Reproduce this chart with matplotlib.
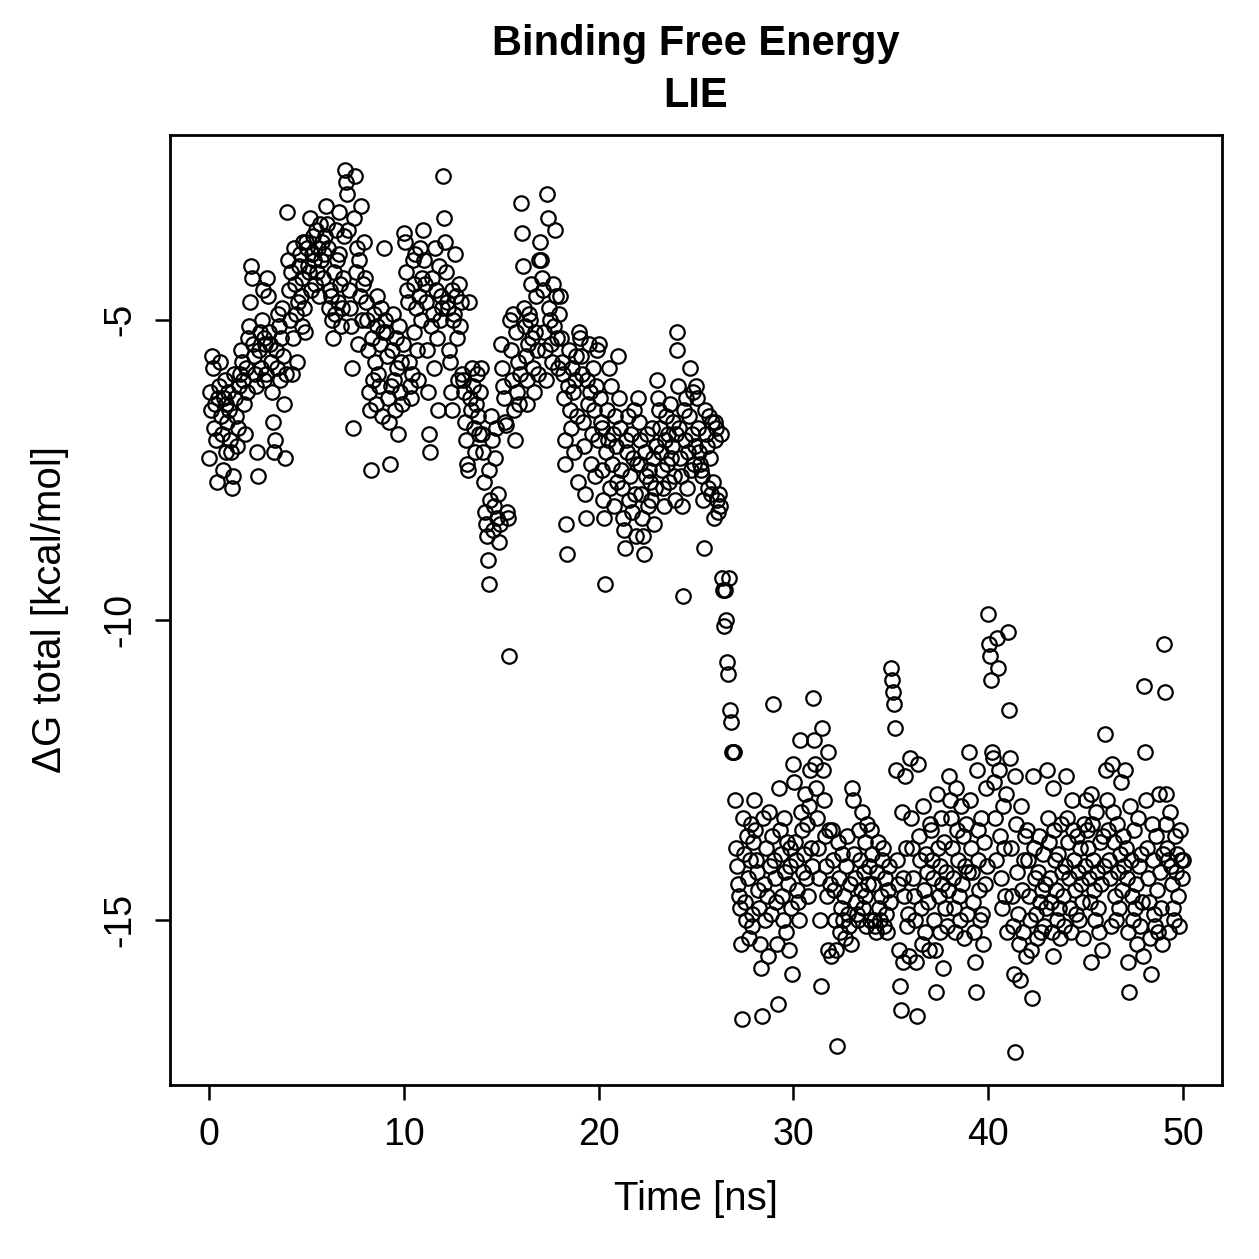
import numpy as np
import matplotlib
matplotlib.use("Agg")
import matplotlib.pyplot as plt

# LIE binding free energy, one value every 0.05 ns (20 per ns)
dg_total = [
    -7.3, -6.2, -6.5, -5.6, -5.8, -6.8, -6.4, -7.0, -7.7, -6.3, -6.1, -5.7, -6.6, -6.9, -7.5, -6.3, -6.0, -6.4, -7.2, -6.7,
    -6.2, -6.5, -7.0, -7.2, -7.8, -7.6, -5.9, -6.3, -6.6, -7.1, -6.8, -6.1, -5.9, -5.5, -5.7, -6.0, -6.4, -6.9, -5.8, -6.2,
    -5.3, -5.1, -4.7, -4.1, -4.3, -5.4, -5.6, -5.9, -6.1, -7.2, -7.6, -5.5, -5.2, -5.8, -5.0, -4.5, -5.3, -6.0, -5.4, -5.9,
    -4.3, -4.6, -5.2, -5.4, -5.7, -6.2, -6.7, -7.2, -7.0, -5.5, -5.8, -4.9, -5.1, -6.0, -5.3, -4.8, -5.6, -6.4, -7.3, -5.9,
    -3.2, -4.0, -4.5, -5.0, -4.2, -5.9, -5.3, -3.8, -4.4, -4.9, -5.7, -4.7, -4.1, -3.9, -4.6, -5.1, -4.3, -3.7, -4.8, -5.2,
    -3.7, -3.8, -4.1, -4.2, -3.3, -4.5, -3.9, -3.6, -4.0, -4.4, -3.5, -4.2, -3.8, -4.6, -3.4, -4.0, -3.7, -4.3, -3.9, -3.6,
    -3.1, -3.4, -3.8, -4.8, -4.5, -4.6, -5.0, -5.3, -4.2, -4.9, -3.5, -4.0, -4.7, -3.2, -3.9, -4.4, -5.1, -4.8, -4.3, -3.6,
    -2.5, -2.7, -2.9, -3.5, -4.5, -4.8, -5.1, -5.8, -6.8, -3.3, -2.6, -4.2, -3.8, -5.4, -4.0, -4.6, -3.1, -5.0, -4.4, -3.7,
    -4.3, -4.7, -5.0, -5.5, -6.2, -6.5, -7.5, -5.3, -6.0, -4.9, -5.7, -6.4, -5.1, -4.6, -5.9, -6.1, -5.4, -4.8, -6.6, -5.2,
    -3.8, -5.0, -5.2, -5.6, -6.3, -6.7, -7.4, -6.1, -5.5, -4.9, -6.0, -6.5, -5.3, -5.8, -6.9, -5.1, -6.2, -5.7, -6.4, -5.4,
    -3.55, -3.7, -4.2, -4.5, -4.7, -5.7, -6.1, -6.3, -5.9, -4.0, -4.4, -5.2, -3.9, -4.8, -5.5, -6.0, -4.6, -3.8, -5.0, -4.3,
    -3.5, -4.0, -4.4, -4.7, -5.5, -6.2, -6.9, -7.2, -5.1, -4.3, -4.9, -5.8, -3.8, -4.5, -5.3, -6.5, -4.1, -5.0, -4.6, -4.8,
    -2.6, -3.3, -3.7, -4.2, -4.7, -4.8, -5.5, -5.7, -6.2, -6.5, -4.5, -5.0, -4.9, -3.9, -4.6, -5.3, -6.0, -4.4, -5.1, -4.7,
    -5.9, -6.0, -6.2, -6.7, -7.0, -7.4, -7.5, -4.7, -6.3, -6.5, -5.8, -6.1, -6.8, -7.2, -6.4, -5.9, -6.6, -6.9, -6.2, -5.8,
    -6.9, -7.2, -7.7, -8.2, -8.4, -8.6, -9.0, -9.4, -7.5, -8.0, -6.6, -7.0, -8.5, -8.1, -7.3, -6.8, -8.3, -7.9, -8.7, -8.4,
    -5.4, -5.8, -6.1, -6.3, -6.7, -6.75, -8.2, -8.3, -10.6, -5.0, -5.5, -6.0, -4.9, -6.5, -7.0, -5.2, -6.2, -5.7, -6.4, -5.9,
    -3.05, -3.55, -4.1, -4.8, -5.1, -5.6, -6.0, -6.4, -5.4, -4.9, -5.0, -4.4, -5.3, -5.8, -6.2, -5.2, -4.6, -5.5, -5.9, -4.0,
    -3.7, -4.0, -4.3, -4.5, -5.2, -5.5, -6.0, -2.9, -3.3, -4.8, -5.0, -5.4, -5.7, -4.4, -5.1, -3.5, -4.6, -5.3, -5.8, -4.9,
    -4.6, -5.3, -5.7, -5.9, -6.3, -7.0, -7.4, -8.4, -8.9, -6.1, -5.5, -6.5, -6.8, -5.8, -6.2, -7.2, -6.0, -5.6, -6.6, -7.7,
    -5.2, -5.3, -5.6, -5.9, -6.7, -7.1, -7.9, -8.3, -6.0, -6.4, -5.4, -6.2, -7.4, -6.9, -5.8, -6.5, -7.6, -6.1, -5.5, -7.0,
    -5.4, -6.3, -6.7, -6.8, -7.5, -8.0, -8.3, -9.4, -7.2, -6.5, -7.0, -5.8, -7.8, -6.1, -7.4, -6.9, -8.1, -6.6, -7.1, -7.7,
    -5.6, -6.3, -6.8, -7.5, -7.8, -8.3, -8.5, -8.8, -7.0, -7.2, -6.6, -8.0, -7.6, -6.9, -8.2, -7.3, -6.5, -7.9, -8.6, -7.4,
    -6.3, -6.7, -7.0, -7.4, -7.9, -8.3, -8.6, -8.9, -7.2, -7.6, -6.9, -8.1, -7.5, -7.7, -8.0, -6.8, -7.3, -8.4, -7.8, -7.1,
    -6.0, -6.3, -6.5, -6.8, -7.2, -7.5, -7.8, -8.1, -7.0, -6.6, -7.4, -6.9, -7.7, -6.4, -7.3, -7.1, -6.7, -7.6, -8.0, -6.9,
    -5.2, -5.5, -6.1, -6.8, -7.3, -7.6, -8.1, -9.6, -6.5, -7.0, -6.3, -7.8, -7.2, -6.6, -5.8, -7.5, -6.9, -6.2, -7.4, -7.1,
    -6.1, -6.3, -6.8, -7.2, -7.4, -7.5, -7.6, -8.0, -8.8, -6.5, -6.9, -7.1, -7.8, -6.6, -7.3, -7.9, -6.7, -7.7, -8.3, -7.0,
    -6.7, -6.8, -8.0, -8.2, -7.9, -8.1, -6.9, -9.3, -9.5, -10.1, -9.5, -10.0, -10.7, -10.9, -9.3, -11.5, -11.7, -12.2, -12.2, -12.2,
    -13.0, -13.8, -14.1, -14.4, -14.6, -14.8, -15.4, -16.65, -13.3, -13.9, -14.7, -15.0, -13.6, -14.3, -15.3, -14.0, -13.4, -14.9, -15.1, -13.7,
    -13.0, -13.5, -14.0, -14.2, -14.5, -14.8, -15.4, -15.8, -16.6, -13.3, -14.4, -15.0, -13.8, -14.6, -15.6, -13.2, -14.1, -14.9, -13.6, -11.4,
    -14.0, -14.3, -14.7, -15.4, -16.4, -12.8, -13.5, -13.9, -14.6, -15.0, -13.3, -14.2, -15.2, -13.7, -14.4, -15.5, -14.1, -13.8, -14.8, -15.9,
    -12.4, -12.7, -13.7, -14.0, -14.5, -14.7, -15.0, -12.0, -13.2, -13.5, -14.2, -13.9, -12.9, -14.3, -13.4, -14.6, -13.1, -12.5, -13.8, -14.1,
    -11.3, -12.0, -12.4, -12.8, -13.3, -13.8, -14.3, -15.0, -16.1, -11.8, -12.5, -13.0, -13.6, -14.1, -14.6, -15.5, -12.2, -13.5, -14.4, -15.6,
    -13.5, -14.0, -14.5, -15.0, -15.5, -17.1, -13.7, -14.3, -15.2, -14.8, -13.9, -15.0, -14.6, -15.3, -14.1, -13.6, -14.9, -15.1, -14.4, -15.4,
    -12.8, -13.0, -13.9, -14.3, -14.7, -14.9, -15.0, -13.5, -14.0, -14.5, -13.2, -14.8, -14.2, -13.7, -14.6, -15.1, -13.4, -14.4, -14.1, -15.0,
    -13.5, -13.9, -14.4, -15.0, -15.1, -15.2, -14.2, -13.7, -14.8, -15.0, -14.6, -14.0, -13.8, -15.1, -14.3, -14.9, -15.2, -14.5, -14.1, -14.7,
    -10.8, -11.0, -11.2, -11.4, -11.8, -12.5, -14.0, -14.4, -15.5, -16.1, -16.5, -13.2, -14.3, -15.7, -14.6, -12.6, -13.8, -15.1, -14.9, -15.6,
    -12.3, -13.3, -13.8, -14.3, -14.6, -15.0, -15.7, -16.6, -12.4, -13.6, -14.0, -14.8, -15.4, -13.1, -14.5, -15.2, -13.9, -14.2, -14.7, -15.5,
    -13.4, -13.5, -14.0, -14.3, -15.0, -15.5, -16.2, -12.9, -13.8, -14.6, -14.1, -15.2, -13.3, -14.4, -15.8, -13.7, -14.8, -14.2, -15.1, -14.5,
    -12.6, -13.0, -13.3, -13.8, -14.3, -14.8, -15.2, -12.8, -13.5, -14.0, -14.6, -15.0, -13.1, -14.4, -13.6, -15.3, -14.1, -13.4, -14.9, -14.2,
    -12.2, -13.0, -13.8, -14.2, -14.7, -15.2, -15.7, -16.2, -12.5, -13.5, -14.0, -14.5, -15.0, -13.3, -14.9, -15.4, -13.7, -14.4, -12.8, -14.1,
    -9.9, -10.4, -10.6, -11.0, -12.2, -12.3, -12.7, -13.3, -14.0, -10.3, -10.8, -12.5, -13.6, -14.3, -14.8, -13.1, -13.8, -14.6, -12.9, -15.2,
    -10.2, -11.5, -12.3, -13.8, -14.6, -15.1, -15.9, -17.2, -12.6, -13.4, -14.2, -14.9, -15.4, -16.0, -13.1, -14.5, -15.2, -14.0, -13.6, -15.6,
    -13.5, -14.0, -14.6, -15.0, -15.5, -16.3, -12.6, -13.8, -14.3, -14.9, -15.3, -14.2, -13.6, -14.7, -15.2, -14.5, -13.9, -15.1, -14.4, -14.8,
    -12.5, -13.3, -13.7, -14.3, -14.7, -15.2, -15.6, -12.8, -13.5, -14.0, -14.5, -15.0, -13.9, -14.8, -15.3, -13.4, -14.2, -14.6, -15.1, -14.1,
    -12.6, -13.3, -13.7, -14.3, -14.8, -15.2, -13.0, -13.5, -14.0, -14.5, -14.9, -13.6, -14.2, -15.0, -13.8, -14.4, -14.7, -15.3, -13.4, -14.1,
    -13.0, -13.5, -13.8, -14.3, -14.7, -15.7, -12.9, -13.4, -14.0, -14.5, -15.0, -13.2, -14.2, -14.8, -15.2, -13.7, -14.4, -15.5, -13.6, -14.1,
    -11.9, -12.5, -13.0, -13.5, -14.0, -14.3, -15.1, -12.4, -13.2, -13.7, -14.6, -15.0, -13.4, -14.2, -14.8, -13.9, -12.7, -14.5, -13.6, -14.1,
    -12.5, -13.8, -14.3, -15.2, -15.7, -16.2, -13.1, -14.0, -14.6, -15.0, -13.5, -14.8, -14.4, -15.4, -13.3, -14.1, -15.1, -13.9, -14.7, -15.6,
    -11.1, -12.2, -13.0, -13.8, -14.3, -14.7, -15.3, -15.9, -13.4, -14.0, -14.9, -15.1, -13.6, -14.5, -15.2, -12.9, -14.2, -14.8, -15.4, -13.9,
    -10.4, -11.2, -12.9, -13.4, -13.8, -14.0, -15.2, -13.2, -14.1, -14.4, -14.8, -15.0, -13.6, -14.2, -13.9, -14.6, -15.1, -13.5, -14.0, -14.3,
    -14.0,
]
dt_ns = 0.05
time_ns = np.arange(len(dg_total)) * dt_ns

x_ticks = [0, 10, 20, 30, 40, 50]
y_ticks = [-15, -10, -5]

plt.rcParams["font.family"] = ["Liberation Sans", "DejaVu Sans"]

fig = plt.figure(figsize=(1259 / 200, 1259 / 200), dpi=200)
ax = fig.add_axes([170 / 1259, 1 - 1085 / 1259, (1222 - 170) / 1259, (1085 - 135) / 1259])

ax.plot(time_ns, dg_total, linestyle="none", marker="o", ms=5.2,
        mfc="none", mec="black", mew=0.8)

ax.set_xlim(-2, 52)
ax.set_ylim(-17.75, -1.92)
ax.set_xticks(x_ticks)
ax.set_yticks(y_ticks)
ax.set_yticklabels([str(v) for v in y_ticks], rotation=90, va="center")
ax.tick_params(axis="both", direction="out", length=5.4, width=0.9, labelsize=13.5, pad=6)
for s in ax.spines.values():
    s.set_linewidth(1.0)

ax.set_xlabel("Time [ns]", fontsize=14.5, labelpad=10)
ax.set_ylabel("\u0394G total [kcal/mol]", fontsize=14.5, labelpad=12)
ax.set_title("Binding Free Energy\nLIE", fontsize=15, fontweight="bold",
             linespacing=1.4, pad=10)

fig.savefig("out.png", dpi=200)
